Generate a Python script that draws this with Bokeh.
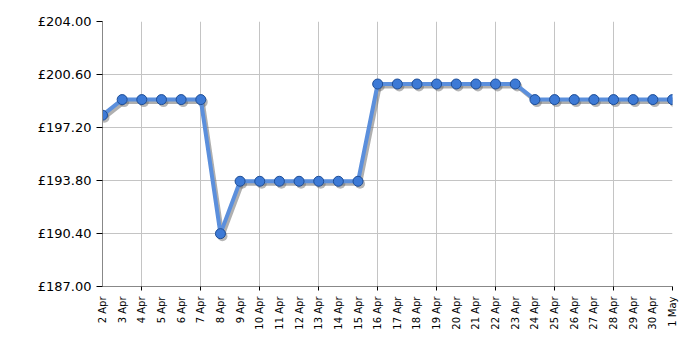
import math
from bokeh.plotting import figure
from bokeh.models import FixedTicker, ColumnDataSource, Range1d
from bokeh.embed import file_html
from bokeh.resources import INLINE

dates = ["2 Apr", "3 Apr", "4 Apr", "5 Apr", "6 Apr", "7 Apr", "8 Apr", "9 Apr",
         "10 Apr", "11 Apr", "12 Apr", "13 Apr", "14 Apr", "15 Apr", "16 Apr",
         "17 Apr", "18 Apr", "19 Apr", "20 Apr", "21 Apr", "22 Apr", "23 Apr",
         "24 Apr", "25 Apr", "26 Apr", "27 Apr", "28 Apr", "29 Apr", "30 Apr", "1 May"]
prices = [197.99, 198.99, 198.99, 198.99, 198.99, 198.99, 190.39, 193.75,
          193.75, 193.75, 193.75, 193.75, 193.75, 193.75, 199.99,
          199.99, 199.99, 199.99, 199.99, 199.99, 199.99, 199.99,
          198.99, 198.99, 198.99, 198.99, 198.99, 198.99, 198.99, 198.99]
y_ticks = [187.0, 190.4, 193.8, 197.2, 200.6, 204.0]
y_labels = ["£187.00", "£190.40", "£193.80", "£197.20", "£200.60", "£204.00"]

xs = list(range(len(dates)))
src = ColumnDataSource(dict(x=xs, y=prices))

p = figure(width=700, height=350, output_backend="svg", toolbar_location=None,
           x_range=Range1d(0, len(dates) - 1), y_range=Range1d(y_ticks[0], y_ticks[-1]),
           min_border_left=102, min_border_right=28, min_border_top=21, min_border_bottom=64)
p.outline_line_color = None
p.background_fill_color = "white"

# shadow (offset ~2px right/down)
px_per_day = 570 / (len(dates) - 1)
px_per_unit = 265 / (y_ticks[-1] - y_ticks[0])
sx = [x + 2 / px_per_day for x in xs]
sy = [y - 2.5 / px_per_unit for y in prices]
p.line(sx, sy, line_color="#6e6e6e", line_width=4, line_alpha=0.55)
p.scatter(sx, sy, size=10, fill_color="#6e6e6e", fill_alpha=0.5, line_color=None)

p.line("x", "y", source=src, line_color="#5b8fdc", line_width=4)
p.scatter("x", "y", source=src, size=10, fill_color="#3d7ad6", line_color="#1f4e96", line_width=1)

# x axis: labels every day, tick marks every 3rd day
grid_days = [x for x in xs if (x - 2) % 3 == 0]
p.xaxis.ticker = FixedTicker(ticks=xs, minor_ticks=grid_days)
p.xaxis.major_label_overrides = {x: d for x, d in zip(xs, dates)}
p.xaxis.major_label_orientation = math.pi / 2
p.xaxis.major_label_text_font = "DejaVu Sans"
p.xaxis.major_label_text_font_size = "10px"
p.xaxis.major_label_text_color = "#000000"
p.xaxis.major_tick_line_color = None
p.xaxis.minor_tick_line_color = "#000000"
p.xaxis.minor_tick_in = 0
p.xaxis.minor_tick_out = 4
p.xaxis.major_label_standoff = 4
p.xaxis.axis_line_color = "#888888"
p.xgrid.ticker = FixedTicker(ticks=grid_days)
p.xgrid.grid_line_color = "#c4c4c4"

p.yaxis.ticker = FixedTicker(ticks=y_ticks, minor_ticks=[])
p.yaxis.major_label_overrides = {t: l for t, l in zip(y_ticks, y_labels)}
p.yaxis.major_label_text_font = "DejaVu Sans"
p.yaxis.major_label_text_font_size = "13px"
p.yaxis.major_label_text_color = "#000000"
p.yaxis.major_tick_line_color = "#000000"
p.yaxis.major_tick_in = 0
p.yaxis.major_tick_out = 6
p.yaxis.major_label_standoff = 5
p.yaxis.axis_line_color = "#888888"
p.ygrid.grid_line_color = "#c4c4c4"

open("out.html", "w").write(file_html(p, INLINE))
